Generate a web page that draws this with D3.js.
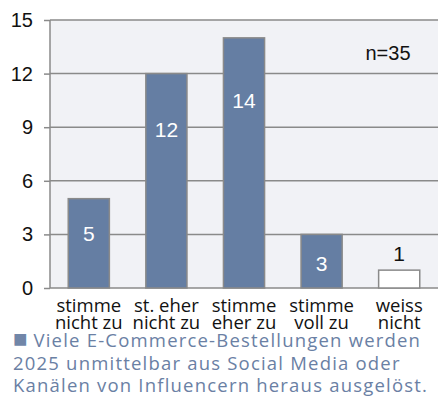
<!DOCTYPE html>
<html><head><meta charset="utf-8">
<script src="https://cdn.jsdelivr.net/npm/d3@7"></script>
<style>body{margin:0;background:#fff}svg{display:block}</style>
</head><body>
<script>
const categories = [["stimme","nicht zu"],["st. eher","nicht zu"],["stimme","eher zu"],["stimme","voll zu"],["weiss","nicht"]];
const values = [5, 12, 14, 3, 1];
const highlight = [true, true, true, true, false];
const yTicks = [0, 3, 6, 9, 12, 15];
const nLabel = "n=35";
const legendMark = "■";
const caption = [" Viele E-Commerce-Bestellungen werden", "2025 unmittelbar aus Social Media oder", "Kanälen von Influencern heraus ausgelöst."];

const W = 440, H = 412;
const m = {l: 50, r: 2, t: 20, b: 124};
const svg = d3.select("body").append("svg").attr("width", W).attr("height", H);
const x = d3.scaleBand().domain(d3.range(values.length)).range([m.l, W - m.r]).paddingInner(0.47).paddingOuter(0.235);
const y = d3.scaleLinear().domain([0, 15]).range([H - m.b, m.t]);

svg.append("rect").attr("x", m.l).attr("y", m.t).attr("width", W - m.r - m.l).attr("height", y(0) - m.t).attr("fill", "#f1f2f6");

const ya = svg.append("g").attr("transform", `translate(${m.l},0)`)
  .call(d3.axisLeft(y).tickValues(yTicks).tickSize(6).tickPadding(11));
ya.select(".domain").remove();
ya.selectAll("line").attr("stroke", "#8a8a8a").attr("stroke-width", 1.5);
ya.selectAll("text").attr("font-family", "Liberation Sans, Arial").attr("font-size", 20).attr("fill", "#111");
svg.append("g").selectAll("line").data(yTicks).join("line")
  .attr("x1", m.l).attr("x2", W - m.r).attr("y1", d => y(d)).attr("y2", d => y(d))
  .attr("stroke", "#8a8a8a").attr("stroke-width", 1.5);
svg.append("line").attr("x1", m.l).attr("x2", m.l).attr("y1", m.t).attr("y2", y(0)).attr("stroke", "#8a8a8a").attr("stroke-width", 1.5);

svg.append("g").selectAll("rect").data(values).join("rect")
  .attr("x", (d, i) => x(i)).attr("width", x.bandwidth())
  .attr("y", d => y(d)).attr("height", d => y(0) - y(d))
  .attr("fill", (d, i) => highlight[i] ? "#657ea3" : "#ffffff")
  .attr("stroke", "#8a8a8a").attr("stroke-width", 1.5);

svg.append("g").selectAll("text").data(values).join("text")
  .attr("x", (d, i) => x(i) + x.bandwidth() / 2)
  .attr("y", (d, i) => highlight[i] ? y(d) + 20 + (y(0) - y(d)) * 0.17 : y(d) - 16)
  .attr("dy", "0.35em").attr("text-anchor", "middle")
  .attr("font-family", "Liberation Sans, Arial").attr("font-size", 21)
  .attr("fill", (d, i) => highlight[i] ? "#fff" : "#111")
  .text(d => d);

svg.append("text").attr("x", 388).attr("y", 53).attr("dy", "0.35em").attr("text-anchor", "middle")
  .attr("font-family", "Liberation Sans, Arial").attr("font-size", 20).attr("fill", "#111").text(nLabel);

const xl = svg.append("g").selectAll("text").data(categories).join("text")
  .attr("text-anchor", "middle").attr("font-family", "Open Sans, sans-serif").attr("font-size", 18.5).attr("fill", "#111");
xl.each(function(d, i) {
  const t = d3.select(this);
  d.forEach((line, j) => t.append("tspan").attr("x", x(i) + x.bandwidth() / 2).attr("y", 312 + j * 17).text(line));
});

const cap = svg.append("g").selectAll("text").data(caption).join("text")
  .attr("x", 13).attr("y", (d, i) => 347 + i * 22.5)
  .attr("font-family", "Open Sans, sans-serif").attr("font-size", 18.5).attr("letter-spacing", 1.2).attr("fill", "#6a80a4");
cap.each(function(d, i) {
  const t = d3.select(this);
  if (i === 0) t.append("tspan").attr("font-size", 24).attr("letter-spacing", 0).attr("fill", "#7186a8").text(legendMark);
  t.append("tspan").text(d);
});
</script>
</body></html>
